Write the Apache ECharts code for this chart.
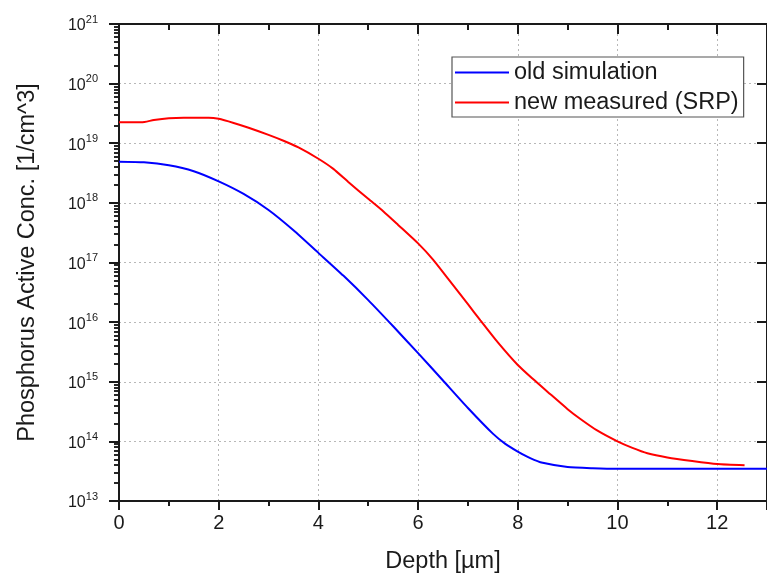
<!DOCTYPE html>
<html>
<head>
<meta charset="utf-8">
<script src="https://cdn.jsdelivr.net/npm/echarts@6/dist/echarts.min.js"></script>
<style>
html,body{margin:0;padding:0;background:#fff;}
#c{width:767px;height:576px;}
</style>
</head>
<body>
<div id="c"></div>
<script>
// ---- data ----
var seriesNames = ['old simulation', 'new measured (SRP)'];

var depthOld = [0, 0.5, 1.0, 1.5, 2.0, 2.5, 3.0, 3.5, 4.0, 4.5, 5.0, 5.5, 6.0, 6.5, 7.0, 7.5, 7.75, 8.0, 8.25, 8.5, 9.0, 9.5, 10, 11, 12, 13];
var concOld  = [4.9e18, 4.79e18, 4.27e18, 3.39e18, 2.29e18, 1.41e18, 7.59e17, 3.47e17, 1.45e17, 6.03e16, 2.34e16, 8.51e15, 3.02e15, 1.05e15, 3.63e14, 1.35e14, 9.1e13, 6.76e13, 5.25e13, 4.37e13, 3.72e13, 3.55e13, 3.47e13, 3.47e13, 3.47e13, 3.47e13];

var depthNew = [0, 0.45, 0.7, 1.0, 1.3, 1.8, 2.0, 2.3, 2.6, 3.0, 3.3, 3.6, 4.0, 4.3, 4.6, 5.0, 5.3, 5.6, 6.0, 6.3, 6.6, 7.0, 7.25, 7.6, 8.0, 8.3, 8.6, 9.0, 9.25, 9.6, 10.0, 10.3, 10.6, 11.0, 11.5, 12.0, 12.55];
var concNew  = [2.24e19, 2.24e19, 2.45e19, 2.63e19, 2.69e19, 2.69e19, 2.57e19, 2.19e19, 1.82e19, 1.38e19, 1.10e19, 8.51e18, 5.50e18, 3.72e18, 2.24e18, 1.17e18, 7.24e17, 4.27e17, 2.09e17, 1.12e17, 5.37e16, 2.0e16, 1.07e16, 4.57e15, 1.91e15, 1.12e15, 6.76e14, 3.47e14, 2.40e14, 1.51e14, 1.0e14, 7.76e13, 6.31e13, 5.37e13, 4.68e13, 4.17e13, 3.98e13];

var xTickLabels = ['0', '2', '4', '6', '8', '10', '12'];
var yExponents = [13, 14, 15, 16, 17, 18, 19, 20, 21];

// ---- build ----
function pairs(xs, ys) { return xs.map(function (x, i) { return [x, ys[i]]; }); }

var minorVals = [];
for (var d = yExponents[0]; d < yExponents[yExponents.length - 1]; d++) {
  for (var k = 2; k <= 9; k++) minorVals.push(k * Math.pow(10, d));
}
var yMin = Math.pow(10, yExponents[0]);
var yMax = Math.pow(10, yExponents[yExponents.length - 1]);

var textColor = '#1a1a1a';
var axisColor = '#1a1a1a';
var FONT = 'Liberation Sans, Arial, sans-serif';

var chart = echarts.init(document.getElementById('c'), null, {renderer: 'canvas'});

var grid = {left: 119, top: 24, width: 648, height: 477, containLabel: false, outerBoundsMode: 'none'};

function yAx(opts) {
  var base = {
    type: 'log', logBase: 10, min: yMin, max: yMax, interval: 1,
    axisLine: {show: false, lineStyle: {color: axisColor, width: 2}},
    axisTick: {show: false},
    axisLabel: {show: false},
    splitLine: {show: false},
    minorTick: {show: false},
    minorSplitLine: {show: false}
  };
  for (var key in opts) base[key] = opts[key];
  return base;
}

var option = {
  backgroundColor: '#ffffff',
  animation: false,
  textStyle: {fontFamily: FONT},
  grid: grid,
  legend: {
    data: seriesNames,
    orient: 'vertical',
    left: 452, top: 57,
    icon: 'rect',
    itemWidth: 54, itemHeight: 2,
    itemGap: 5,
    padding: [3, 5, 2, 3],
    backgroundColor: '#ffffff',
    borderColor: '#555555',
    borderWidth: 1.2,
    borderRadius: 0,
    textStyle: {fontFamily: FONT, fontSize: 23.5, color: textColor, lineHeight: 25}
  },
  xAxis: [
    {
      type: 'value', min: 0, max: 13, interval: 2, position: 'bottom',
      name: 'Depth [µm]', nameLocation: 'middle', nameGap: 49,
      nameTextStyle: {fontFamily: FONT, fontSize: 23.5, color: textColor},
      axisLine: {show: true, onZero: false, lineStyle: {color: axisColor, width: 2}},
      axisTick: {show: true, inside: false, length: 9, lineStyle: {color: axisColor, width: 2}},
      minorTick: {show: true, splitNumber: 2, length: 5, lineStyle: {color: axisColor, width: 2}},
      axisLabel: {
        show: true, margin: 12, fontFamily: FONT, fontSize: 20, color: textColor,
        formatter: function (v) { var i = xTickLabels.indexOf(String(v)); return i >= 0 ? xTickLabels[i] : ''; }
      },
      splitLine: {show: true, lineStyle: {color: '#b8b8b8', type: [2, 3], width: 1}}
    },
    {
      type: 'value', min: 0, max: 13, interval: 2, position: 'top',
      axisLine: {show: true, onZero: false, lineStyle: {color: axisColor, width: 2}},
      axisTick: {show: true, inside: true, length: 10, lineStyle: {color: axisColor, width: 2}},
      minorTick: {show: true, splitNumber: 2, length: 6, lineStyle: {color: axisColor, width: 2}},
      axisLabel: {show: false},
      splitLine: {show: false}
    }
  ],
  yAxis: [
    yAx({
      position: 'left',
      name: 'Phosphorus Active Conc. [1/cm^3]', nameLocation: 'middle', nameGap: 79,
      nameTextStyle: {fontFamily: FONT, fontSize: 23.5, color: textColor},
      axisLine: {show: true, onZero: false, lineStyle: {color: axisColor, width: 2}},
      axisTick: {show: true, inside: false, length: 10, lineStyle: {color: axisColor, width: 2}},
      axisLabel: {
        show: true, margin: 21, color: textColor,
        formatter: function (v) {
          var e = Math.round(Math.log(v) / Math.LN10);
          return '{b|10}{s|' + e + '}';
        },
        rich: {
          b: {fontFamily: FONT, fontSize: 16, color: textColor, lineHeight: 20, verticalAlign: 'bottom'},
          s: {fontFamily: FONT, fontSize: 11, color: textColor, lineHeight: 13, verticalAlign: 'top'}
        }
      },
      splitLine: {show: true, lineStyle: {color: '#b8b8b8', type: [2, 3], width: 1}}
    }),
    yAx({
      position: 'left',
      axisTick: {show: true, inside: false, length: 5, customValues: minorVals, lineStyle: {color: axisColor, width: 1.5}}
    }),
    yAx({
      position: 'right',
      axisLine: {show: true, onZero: false, lineStyle: {color: axisColor, width: 2}},
      axisTick: {show: true, inside: true, length: 10, lineStyle: {color: axisColor, width: 2}}
    }),
    yAx({
      position: 'right',
      axisTick: {show: true, inside: true, length: 5, customValues: minorVals, lineStyle: {color: axisColor, width: 1.5}}
    })
  ],
  series: [
    {
      name: seriesNames[0], type: 'line', xAxisIndex: 0, yAxisIndex: 0,
      data: pairs(depthOld, concOld),
      showSymbol: false, symbol: 'none', smooth: 0.2,
      lineStyle: {color: '#0000ff', width: 2}, itemStyle: {color: '#0000ff'},
      z: 3
    },
    {
      name: seriesNames[1], type: 'line', xAxisIndex: 0, yAxisIndex: 0,
      data: pairs(depthNew, concNew),
      showSymbol: false, symbol: 'none', smooth: 0.2,
      lineStyle: {color: '#ff0000', width: 2}, itemStyle: {color: '#ff0000'},
      z: 3
    }
  ]
};
chart.setOption(option);
</script>
</body>
</html>
